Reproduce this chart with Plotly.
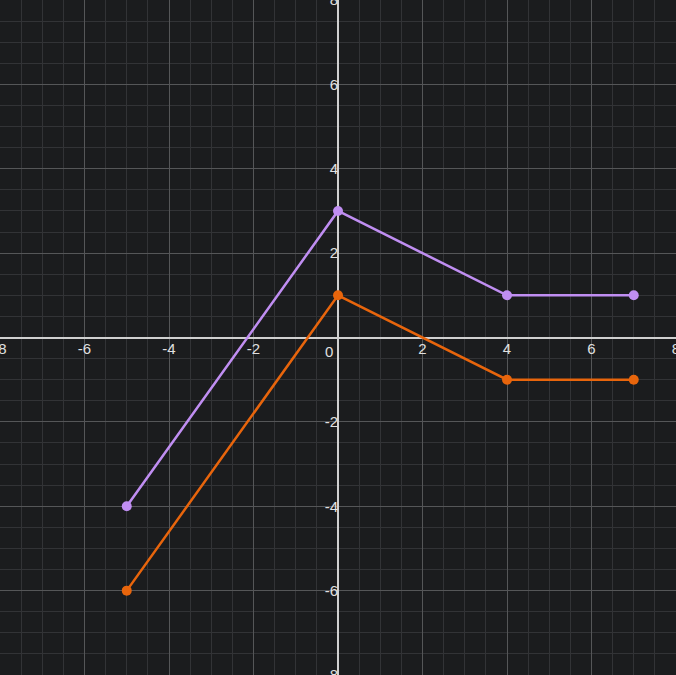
import plotly.graph_objects as go

x_vals = [-5, 0, 4, 7]
purple_y = [-4, 3, 1, 1]
orange_y = [-6, 1, -1, -1]

tick_vals = [-8, -6, -4, -2, 0, 2, 4, 6, 8]
tick_text = ["-8", "-6", "-4", "-2", "", "2", "4", "6", "8"]
minor_vals = [i * 0.5 for i in range(-16, 17)]

BG = "#1b1c1e"
MAJOR = "#555658"
MINOR = "#323336"
AXIS = "#d0d0d0"
TXT = "#e0e0e0"
FONT = dict(family="Liberation Sans, Arial, sans-serif", size=15, color=TXT)

fig = go.Figure()
fig.add_trace(go.Scatter(x=x_vals, y=purple_y, mode="lines+markers",
                         line=dict(color="#c08ef2", width=2.5),
                         marker=dict(color="#c08ef2", size=10)))
fig.add_trace(go.Scatter(x=x_vals, y=orange_y, mode="lines+markers",
                         line=dict(color="#e8650c", width=2.5),
                         marker=dict(color="#e8650c", size=10)))

axis_common = dict(
    range=[-8, 8], tickmode="array", tickvals=tick_vals, ticktext=tick_text,
    showgrid=True, gridcolor=MAJOR, gridwidth=1,
    zeroline=True, zerolinecolor=AXIS, zerolinewidth=2,
    showline=False, ticks="", anchor="free", position=0.5,
    automargin=False, ticklabeloverflow="allow",
    tickfont=FONT,
    minor=dict(tickmode="array", tickvals=minor_vals, showgrid=True,
               gridcolor=MINOR, gridwidth=1, ticks=""),
    fixedrange=True,
)

fig.update_layout(
    width=676, height=675,
    margin=dict(l=0, r=0, t=0, b=0, pad=0),
    paper_bgcolor=BG, plot_bgcolor=BG,
    showlegend=False,
    xaxis=dict(**axis_common),
    yaxis=dict(**axis_common),
)

fig.add_annotation(x=0, y=0, xref="x", yref="y", text="0", showarrow=False,
                   xanchor="right", yanchor="top", xshift=-3, yshift=-3,
                   font=FONT)

fig.write_html("out.html", config={"displayModeBar": False},
               post_script="document.body.style.margin='0px';document.body.style.overflow='hidden';document.body.style.background='#1b1c1e';")
